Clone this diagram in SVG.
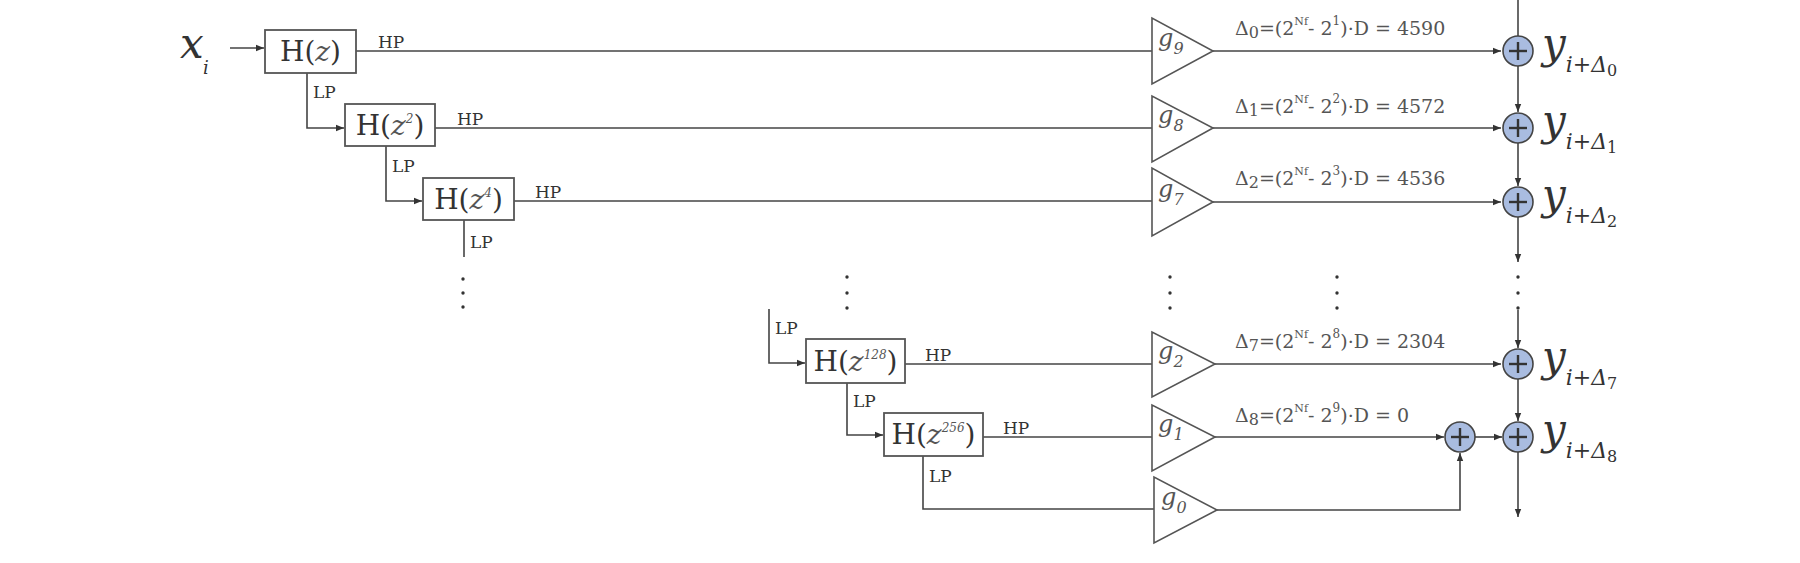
<svg xmlns="http://www.w3.org/2000/svg" width="1800" height="563" viewBox="0 0 1800 563">
<style>
.ln{stroke:#444;stroke-width:1.6;fill:none}
.bx{stroke:#555;stroke-width:1.8;fill:#fff}
.tri{stroke:#555;stroke-width:1.6;fill:#fff}
.sum{stroke:#444;stroke-width:1.6;fill:#a9bce0}
.pl{stroke:#333;stroke-width:2.4}
text{font-family:"DejaVu Serif","Liberation Serif",serif;fill:#333}
.h{font-size:28px}
.s{font-size:17px}
.d{font-size:19px;fill:#555}
.g{font-size:24px;font-style:italic;fill:#555}
.y{font-size:42px;font-style:italic}
.dot{fill:#333}
</style>
<defs>
<marker id="a" viewBox="0 0 10 10" refX="10" refY="5" markerWidth="8" markerHeight="8" markerUnits="userSpaceOnUse" orient="auto"><path d="M0,1 L10,5 L0,9 z" fill="#333"/></marker>
<g id="plus"><line class="pl" x1="-9" y1="0" x2="9" y2="0"/><line class="pl" x1="0" y1="-9" x2="0" y2="9"/></g>
</defs>
<g id="connectors">
<line class="ln" x1="230" y1="48" x2="264" y2="48" marker-end="url(#a)"/>
<line class="ln" x1="356" y1="51" x2="1152" y2="51"/>
<path class="ln" d="M307,73 V128 H344" marker-end="url(#a)"/>
<line class="ln" x1="435" y1="128" x2="1152" y2="128"/>
<path class="ln" d="M386,146 V201 H422" marker-end="url(#a)"/>
<line class="ln" x1="514" y1="201" x2="1152" y2="201"/>
<line class="ln" x1="464" y1="220" x2="464" y2="257"/>
<path class="ln" d="M769,309 V363 H805" marker-end="url(#a)"/>
<line class="ln" x1="905" y1="364" x2="1152" y2="364"/>
<path class="ln" d="M847,383 V435 H883" marker-end="url(#a)"/>
<line class="ln" x1="983" y1="437" x2="1152" y2="437"/>
<path class="ln" d="M923,456 V509 H1154"/>
<line class="ln" x1="1213" y1="51" x2="1501" y2="51" marker-end="url(#a)"/>
<line class="ln" x1="1213" y1="128" x2="1501" y2="128" marker-end="url(#a)"/>
<line class="ln" x1="1213" y1="202" x2="1501" y2="202" marker-end="url(#a)"/>
<line class="ln" x1="1215" y1="364" x2="1501" y2="364" marker-end="url(#a)"/>
<line class="ln" x1="1215" y1="437" x2="1444" y2="437" marker-end="url(#a)"/>
<path class="ln" d="M1217,510 H1460 V453" marker-end="url(#a)"/>
<line class="ln" x1="1475" y1="437" x2="1502" y2="437" marker-end="url(#a)"/>
<line class="ln" x1="1518" y1="0" x2="1518" y2="36"/>
<line class="ln" x1="1518" y1="66" x2="1518" y2="112" marker-end="url(#a)"/>
<line class="ln" x1="1518" y1="143" x2="1518" y2="186" marker-end="url(#a)"/>
<line class="ln" x1="1518" y1="217" x2="1518" y2="262" marker-end="url(#a)"/>
<line class="ln" x1="1518" y1="310" x2="1518" y2="348" marker-end="url(#a)"/>
<line class="ln" x1="1518" y1="379" x2="1518" y2="421" marker-end="url(#a)"/>
<line class="ln" x1="1518" y1="452" x2="1518" y2="517" marker-end="url(#a)"/>
</g>
<g id="dots">
<circle class="dot" cx="463" cy="279" r="1.7"/><circle class="dot" cx="463" cy="293" r="1.7"/><circle class="dot" cx="463" cy="307" r="1.7"/>
<circle class="dot" cx="847" cy="277" r="1.7"/><circle class="dot" cx="847" cy="293" r="1.7"/><circle class="dot" cx="847" cy="308" r="1.7"/>
<circle class="dot" cx="1170" cy="277" r="1.7"/><circle class="dot" cx="1170" cy="293" r="1.7"/><circle class="dot" cx="1170" cy="308" r="1.7"/>
<circle class="dot" cx="1337" cy="277" r="1.7"/><circle class="dot" cx="1337" cy="293" r="1.7"/><circle class="dot" cx="1337" cy="308" r="1.7"/>
<circle class="dot" cx="1518" cy="277" r="1.7"/><circle class="dot" cx="1518" cy="293" r="1.7"/><circle class="dot" cx="1518" cy="308" r="1.7"/>
</g>
<g id="input"><text class="y" x="180" y="58">x</text><text x="203" y="74" style="font-size:18px;font-style:italic">i</text></g>
<g id="h1"><rect class="bx" x="265" y="30" width="91" height="43"/><text class="h" x="310.5" y="61" text-anchor="middle">H(<tspan font-style="italic" fill="#555">z</tspan>)</text><text class="s" x="378" y="48">HP</text><text class="s" x="313" y="98">LP</text></g>
<g id="h2"><rect class="bx" x="345" y="104" width="90" height="42"/><text class="h" x="390" y="135" text-anchor="middle">H(<tspan font-style="italic" fill="#555">z</tspan><tspan font-size="12" font-style="italic" dy="-12" fill="#555">2</tspan><tspan dy="12">)</tspan></text><text class="s" x="457" y="125">HP</text><text class="s" x="392" y="172">LP</text></g>
<g id="h3"><rect class="bx" x="423" y="178" width="91" height="42"/><text class="h" x="468.5" y="209" text-anchor="middle">H(<tspan font-style="italic" fill="#555">z</tspan><tspan font-size="12" font-style="italic" dy="-12" fill="#555">4</tspan><tspan dy="12">)</tspan></text><text class="s" x="535" y="198">HP</text><text class="s" x="470" y="248">LP</text></g>
<g id="h128"><rect class="bx" x="806" y="339" width="99" height="44"/><text class="h" x="855.5" y="371" text-anchor="middle">H(<tspan font-style="italic" fill="#555">z</tspan><tspan font-size="12" font-style="italic" dy="-12" fill="#555">128</tspan><tspan dy="12">)</tspan></text><text class="s" x="925" y="361">HP</text><text class="s" x="775" y="334">LP</text></g>
<g id="h256"><rect class="bx" x="884" y="413" width="99" height="43"/><text class="h" x="933.5" y="444" text-anchor="middle">H(<tspan font-style="italic" fill="#555">z</tspan><tspan font-size="12" font-style="italic" dy="-12" fill="#555">256</tspan><tspan dy="12">)</tspan></text><text class="s" x="1003" y="434">HP</text><text class="s" x="853" y="407">LP</text><text class="s" x="929" y="482">LP</text></g>
<g id="g9"><polygon class="tri" points="1152,18 1152,84 1213,51"/><text class="g" x="1158" y="46">g<tspan font-size="16" dy="8">9</tspan></text></g>
<g id="g8"><polygon class="tri" points="1152,96 1152,162 1213,128"/><text class="g" x="1158" y="123">g<tspan font-size="16" dy="8">8</tspan></text></g>
<g id="g7"><polygon class="tri" points="1152,168 1152,236 1213,202"/><text class="g" x="1158" y="197">g<tspan font-size="16" dy="8">7</tspan></text></g>
<g id="g2"><polygon class="tri" points="1152,332 1152,397 1215,364"/><text class="g" x="1158" y="359">g<tspan font-size="16" dy="8">2</tspan></text></g>
<g id="g1"><polygon class="tri" points="1152,405 1152,471 1215,437"/><text class="g" x="1158" y="432">g<tspan font-size="16" dy="8">1</tspan></text></g>
<g id="g0"><polygon class="tri" points="1154,477 1154,543 1217,510"/><text class="g" x="1161" y="505">g<tspan font-size="16" dy="8">0</tspan></text></g>
<g id="labels">
<text class="d" x="1235" y="35">Δ<tspan font-size="16" dy="3">0</tspan><tspan dy="-3">=(2</tspan><tspan font-size="11" dy="-10">Nf</tspan><tspan dy="10">- 2</tspan><tspan font-size="12" dy="-10">1</tspan><tspan dy="10">)·D = 4590</tspan></text>
<text class="d" x="1235" y="113">Δ<tspan font-size="16" dy="3">1</tspan><tspan dy="-3">=(2</tspan><tspan font-size="11" dy="-10">Nf</tspan><tspan dy="10">- 2</tspan><tspan font-size="12" dy="-10">2</tspan><tspan dy="10">)·D = 4572</tspan></text>
<text class="d" x="1235" y="185">Δ<tspan font-size="16" dy="3">2</tspan><tspan dy="-3">=(2</tspan><tspan font-size="11" dy="-10">Nf</tspan><tspan dy="10">- 2</tspan><tspan font-size="12" dy="-10">3</tspan><tspan dy="10">)·D = 4536</tspan></text>
<text class="d" x="1235" y="348">Δ<tspan font-size="16" dy="3">7</tspan><tspan dy="-3">=(2</tspan><tspan font-size="11" dy="-10">Nf</tspan><tspan dy="10">- 2</tspan><tspan font-size="12" dy="-10">8</tspan><tspan dy="10">)·D = 2304</tspan></text>
<text class="d" x="1235" y="422">Δ<tspan font-size="16" dy="3">8</tspan><tspan dy="-3">=(2</tspan><tspan font-size="11" dy="-10">Nf</tspan><tspan dy="10">- 2</tspan><tspan font-size="12" dy="-10">9</tspan><tspan dy="10">)·D = 0</tspan></text>
</g>
<g id="s0"><circle class="sum" cx="1518" cy="51" r="15"/><use href="#plus" x="1518" y="51"/><text class="y" x="1542" y="58">y<tspan font-size="22" dy="14">i+Δ</tspan><tspan font-size="16" dy="4" font-style="normal">0</tspan></text></g>
<g id="s1"><circle class="sum" cx="1518" cy="128" r="15"/><use href="#plus" x="1518" y="128"/><text class="y" x="1542" y="135">y<tspan font-size="22" dy="14">i+Δ</tspan><tspan font-size="16" dy="4" font-style="normal">1</tspan></text></g>
<g id="s2"><circle class="sum" cx="1518" cy="202" r="15"/><use href="#plus" x="1518" y="202"/><text class="y" x="1542" y="209">y<tspan font-size="22" dy="14">i+Δ</tspan><tspan font-size="16" dy="4" font-style="normal">2</tspan></text></g>
<g id="s7"><circle class="sum" cx="1518" cy="364" r="15"/><use href="#plus" x="1518" y="364"/><text class="y" x="1542" y="371">y<tspan font-size="22" dy="14">i+Δ</tspan><tspan font-size="16" dy="4" font-style="normal">7</tspan></text></g>
<g id="s8"><circle class="sum" cx="1518" cy="437" r="15"/><use href="#plus" x="1518" y="437"/><text class="y" x="1542" y="444">y<tspan font-size="22" dy="14">i+Δ</tspan><tspan font-size="16" dy="4" font-style="normal">8</tspan></text></g>
<g id="s9"><circle class="sum" cx="1460" cy="437" r="15"/><use href="#plus" x="1460" y="437"/></g>
</svg>
